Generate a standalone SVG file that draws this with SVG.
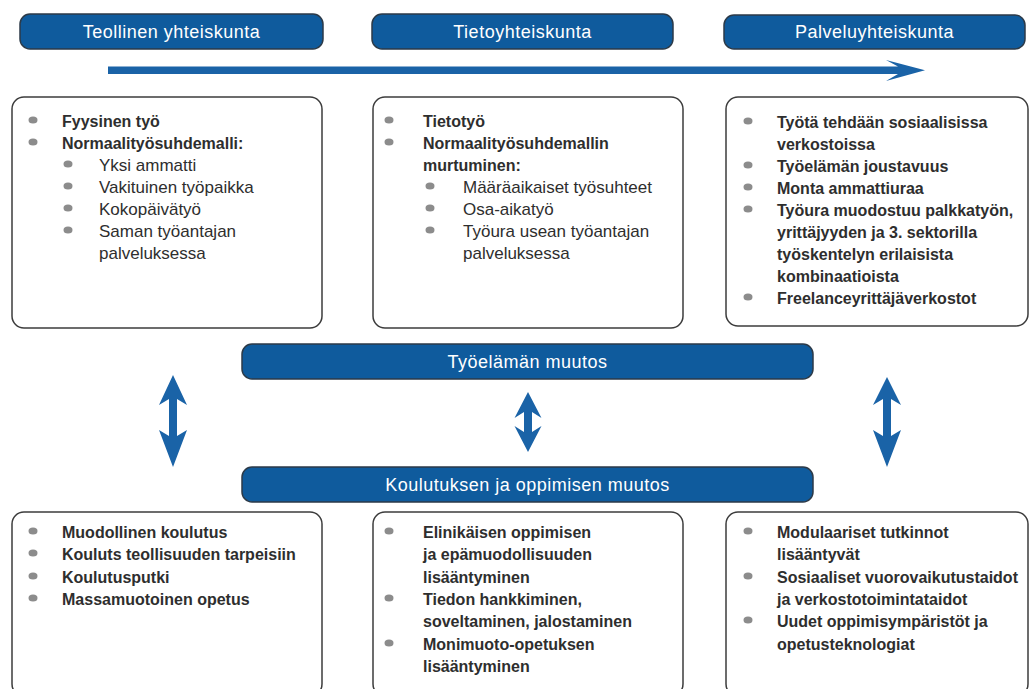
<svg xmlns="http://www.w3.org/2000/svg" width="1030" height="689" viewBox="0 0 1030 689">
<style>
.pill{fill:#0f5b9d;stroke:#2c3a48;stroke-width:1.5}
.pt{font-family:"Liberation Sans",Arial,sans-serif;font-size:18px;fill:#ffffff;text-anchor:middle;letter-spacing:0.5px}
.box{fill:#ffffff;stroke:#3c3c3c;stroke-width:1.5}
.b{font-family:"Liberation Sans",Arial,sans-serif;font-size:16px;font-weight:bold;fill:#2e2e2e}
.r{font-family:"Liberation Sans",Arial,sans-serif;font-size:17px;fill:#2e2e2e}
.dot{fill:#8c8c8c}
.arr{fill:#1a63a7}
</style>
<rect width="1030" height="689" fill="#ffffff"/>

<g id="hdr-teollinen">
<rect class="pill" x="20" y="14" width="303" height="35" rx="10"/>
<text class="pt" x="171.5" y="38">Teollinen yhteiskunta</text>
</g>
<g id="hdr-tieto">
<rect class="pill" x="372" y="14" width="301" height="35" rx="10"/>
<text class="pt" x="522.5" y="38">Tietoyhteiskunta</text>
</g>
<g id="hdr-palvelu">
<rect class="pill" x="724" y="15" width="301" height="34" rx="10"/>
<text class="pt" x="874.5" y="38">Palveluyhteiskunta</text>
</g>

<g id="box-teollinen">
<rect class="box" x="12" y="97" width="310" height="231" rx="12"/>
<ellipse class="dot" cx="33" cy="120" rx="4.5" ry="3.6"/>
<ellipse class="dot" cx="33" cy="142" rx="4.5" ry="3.6"/>
<ellipse class="dot" cx="68" cy="164" rx="4.5" ry="3.6"/>
<ellipse class="dot" cx="68" cy="186" rx="4.5" ry="3.6"/>
<ellipse class="dot" cx="68" cy="208" rx="4.5" ry="3.6"/>
<ellipse class="dot" cx="68" cy="230" rx="4.5" ry="3.6"/>
<text class="b" x="62" y="127">Fyysinen työ</text>
<text class="b" x="62" y="149">Normaalityösuhdemalli:</text>
<text class="r" x="99" y="171">Yksi ammatti</text>
<text class="r" x="99" y="193">Vakituinen työpaikka</text>
<text class="r" x="99" y="215">Kokopäivätyö</text>
<text class="r" x="99" y="237">Saman työantajan</text>
<text class="r" x="99" y="259">palveluksessa</text>
</g>

<g id="box-tieto">
<rect class="box" x="373" y="97" width="310" height="231" rx="12"/>
<ellipse class="dot" cx="389" cy="120" rx="4.5" ry="3.6"/>
<ellipse class="dot" cx="389" cy="142" rx="4.5" ry="3.6"/>
<ellipse class="dot" cx="430" cy="186" rx="4.5" ry="3.6"/>
<ellipse class="dot" cx="430" cy="208" rx="4.5" ry="3.6"/>
<ellipse class="dot" cx="430" cy="230" rx="4.5" ry="3.6"/>
<text class="b" x="423" y="127">Tietotyö</text>
<text class="b" x="423" y="149">Normaalityösuhdemallin</text>
<text class="b" x="423" y="171">murtuminen:</text>
<text class="r" x="463" y="193">Määräaikaiset työsuhteet</text>
<text class="r" x="463" y="215">Osa-aikatyö</text>
<text class="r" x="463" y="237">Työura usean työantajan</text>
<text class="r" x="463" y="259">palveluksessa</text>
</g>

<g id="box-palvelu">
<rect class="box" x="726" y="97" width="302" height="229" rx="12"/>
<ellipse class="dot" cx="748" cy="121" rx="4.5" ry="3.6"/>
<ellipse class="dot" cx="748" cy="165" rx="4.5" ry="3.6"/>
<ellipse class="dot" cx="748" cy="187" rx="4.5" ry="3.6"/>
<ellipse class="dot" cx="748" cy="209" rx="4.5" ry="3.6"/>
<ellipse class="dot" cx="748" cy="297" rx="4.5" ry="3.6"/>
<text class="b" x="777" y="128">Työtä tehdään sosiaalisissa</text>
<text class="b" x="777" y="150">verkostoissa</text>
<text class="b" x="777" y="172">Työelämän joustavuus</text>
<text class="b" x="777" y="194">Monta ammattiuraa</text>
<text class="b" x="777" y="216">Työura muodostuu palkkatyön,</text>
<text class="b" x="777" y="238">yrittäjyyden ja 3. sektorilla</text>
<text class="b" x="777" y="260">työskentelyn erilaisista</text>
<text class="b" x="777" y="282">kombinaatioista</text>
<text class="b" x="777" y="304">Freelanceyrittäjäverkostot</text>
</g>

<g id="mid-tyoelama">
<rect class="pill" x="242" y="344" width="571" height="35" rx="10"/>
<text class="pt" x="527.5" y="368">Työelämän muutos</text>
</g>
<g id="mid-koulutus">
<rect class="pill" x="242" y="467" width="571" height="35" rx="10"/>
<text class="pt" x="527.5" y="491">Koulutuksen ja oppimisen muutos</text>
</g>

<g id="box-koulutus1">
<rect class="box" x="12" y="512" width="310" height="184" rx="12"/>
<ellipse class="dot" cx="33" cy="531" rx="4.5" ry="3.6"/>
<ellipse class="dot" cx="33" cy="553" rx="4.5" ry="3.6"/>
<ellipse class="dot" cx="33" cy="576" rx="4.5" ry="3.6"/>
<ellipse class="dot" cx="33" cy="598" rx="4.5" ry="3.6"/>
<text class="b" x="62" y="538">Muodollinen koulutus</text>
<text class="b" x="62" y="560">Kouluts teollisuuden tarpeisiin</text>
<text class="b" x="62" y="583">Koulutusputki</text>
<text class="b" x="62" y="605">Massamuotoinen opetus</text>
</g>

<g id="box-koulutus2">
<rect class="box" x="373" y="512" width="310" height="184" rx="12"/>
<ellipse class="dot" cx="389" cy="531" rx="4.5" ry="3.6"/>
<ellipse class="dot" cx="389" cy="598" rx="4.5" ry="3.6"/>
<ellipse class="dot" cx="389" cy="643" rx="4.5" ry="3.6"/>
<text class="b" x="423" y="538">Elinikäisen oppimisen</text>
<text class="b" x="423" y="560">ja epämuodollisuuden</text>
<text class="b" x="423" y="583">lisääntyminen</text>
<text class="b" x="423" y="605">Tiedon hankkiminen,</text>
<text class="b" x="423" y="627">soveltaminen, jalostaminen</text>
<text class="b" x="423" y="650">Monimuoto-opetuksen</text>
<text class="b" x="423" y="672">lisääntyminen</text>
</g>

<g id="box-koulutus3">
<rect class="box" x="726" y="512" width="302" height="184" rx="12"/>
<ellipse class="dot" cx="748" cy="531" rx="4.5" ry="3.6"/>
<ellipse class="dot" cx="748" cy="576" rx="4.5" ry="3.6"/>
<ellipse class="dot" cx="748" cy="620" rx="4.5" ry="3.6"/>
<text class="b" x="777" y="538">Modulaariset tutkinnot</text>
<text class="b" x="777" y="560">lisääntyvät</text>
<text class="b" x="777" y="583">Sosiaaliset vuorovaikutustaidot</text>
<text class="b" x="777" y="605">ja verkostotoimintataidot</text>
<text class="b" x="777" y="627">Uudet oppimisympäristöt ja</text>
<text class="b" x="777" y="650">opetusteknologiat</text>
</g>

<g id="connectors">
<path class="arr" d="M108,66.5 L898,66.5 L886,60 L925,70.3 L886,81 L898,74 L108,74 Z"/>
<path class="arr" d="M173,375 L187,405 L177,399 L177,436 L187,430 L173,467 L159,430 L169,436 L169,399 L159,405 Z"/>
<path class="arr" d="M528,392 L541.5,418 L532,412 L532,432 L541.5,426 L528,452 L514.5,426 L524,432 L524,412 L514.5,418 Z"/>
<path class="arr" d="M887,377 L901,405 L891,399 L891,436 L901,430 L887,467 L873,430 L883,436 L883,399 L873,405 Z"/>
</g>
</svg>
